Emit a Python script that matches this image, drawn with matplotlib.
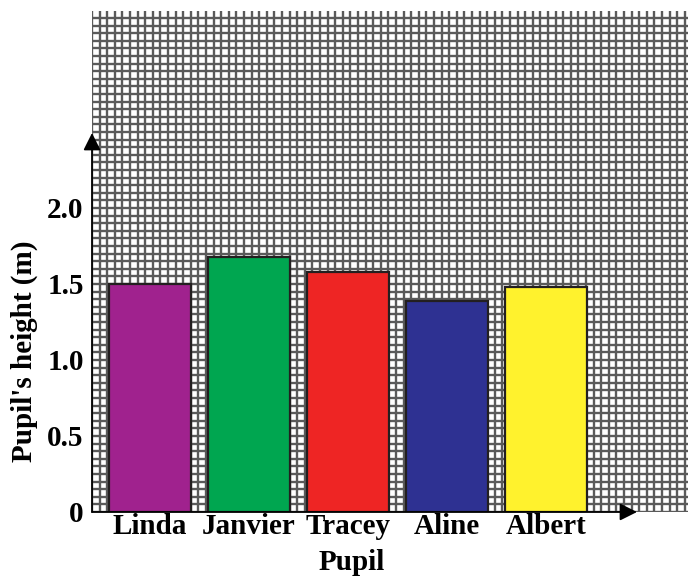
import numpy as np
import matplotlib
matplotlib.use("Agg")
import matplotlib.pyplot as plt

# ---- data ----
pupils = ["Linda", "Janvier", "Tracey", "Aline", "Albert"]
heights = [1.50, 1.68, 1.58, 1.39, 1.48]
bar_colors = ["#A0228E", "#00A650", "#EE2524", "#2E3192", "#FFF22D"]
ytick_values = [0, 0.5, 1.0, 1.5, 2.0]
ytick_labels = ["0", "0.5", "1.0", "1.5", "2.0"]
x_label = "Pupil"
y_label = "Pupil's height (m)"

W, H = 688, 576
fig = plt.figure(figsize=(W / 100, H / 100), dpi=100)
ax = fig.add_axes([92 / W, (H - 512) / H, (W - 92) / W, (512 - 11) / H])

px_per_unit_y = 152.0
px_per_unit_x = 99.0
x_left = (92 - 150) / px_per_unit_x
x_right = (688 - 150) / px_per_unit_x
y_top = (512 - 11) / px_per_unit_y
ax.set_xlim(x_left, x_right)
ax.set_ylim(0, y_top)

# graph paper grid
pitch_px = 7.6
grid_kw = dict(color="#5a5a5a", lw=1.7, zorder=1)
ys = np.arange(0, y_top + 1e-9, pitch_px / px_per_unit_y)
ax.hlines(ys, x_left, x_right, **grid_kw)
xs = np.arange(x_left, x_right + 1e-9, pitch_px / px_per_unit_x)
ax.vlines(xs, 0, y_top, **grid_kw)

x = np.arange(len(pupils))
ax.bar(x, heights, width=82 / px_per_unit_x, color=bar_colors,
       edgecolor="#231f20", linewidth=1.6, zorder=3)

for s in ax.spines.values():
    s.set_visible(False)

font = dict(family="Liberation Serif", weight="bold", size=21)
ax.set_yticks(ytick_values)
ax.set_yticklabels(ytick_labels, fontdict=font)
ax.set_xticks(x)
ax.set_xticklabels(pupils, fontdict=font)
ax.tick_params(axis="both", length=0)
ax.tick_params(axis="y", pad=6)
ax.tick_params(axis="x", pad=1)

ax.set_xlabel(x_label, fontdict=font, va="center")
ax.xaxis.set_label_coords((352 - 92) / (W - 92), (512 - 563) / (512 - 11))
ax.set_ylabel(y_label, fontdict=font, va="center")
ax.yaxis.set_label_coords((24 - 92) / (W - 92), (512 - 351) / (512 - 11))

# axes with arrows
arrow_kw = dict(arrowstyle="-|>", color="black", lw=1.3, mutation_scale=26,
                shrinkA=0, shrinkB=0)
ax.annotate("", xy=(0, (512 - 133) / (512 - 11)), xytext=(0, 0),
            xycoords="axes fraction", arrowprops=arrow_kw, annotation_clip=False, zorder=5)
ax.annotate("", xy=((637 - 92) / (W - 92), 0), xytext=(0, 0),
            xycoords="axes fraction", arrowprops=arrow_kw, annotation_clip=False, zorder=5)

fig.savefig("out.png", dpi=100)
